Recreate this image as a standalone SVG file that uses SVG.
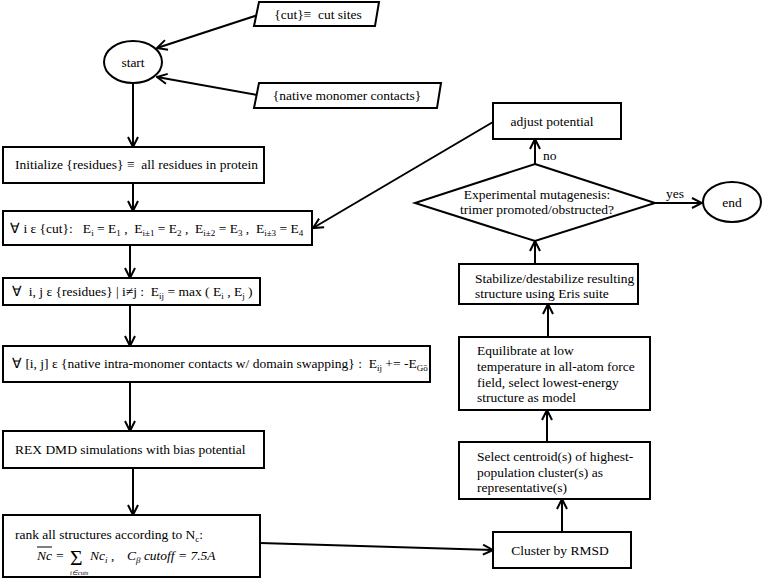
<svg xmlns="http://www.w3.org/2000/svg" width="762" height="579" viewBox="0 0 762 579">
<defs>
<marker id="arr" viewBox="0 0 12 12" refX="11" refY="6" markerWidth="12" markerHeight="12" markerUnits="userSpaceOnUse" orient="auto">
<path d="M1,1 L11,6 L1,11" fill="none" stroke="#000" stroke-width="2"/>
</marker>
<style>
.box{fill:#fff;stroke:#000;stroke-width:2}
.t{font-family:"Liberation Serif","Times New Roman",serif;font-size:13.5px;fill:#000;white-space:pre}
.c{text-anchor:middle}
.sub{font-size:9px}
.it{font-style:italic}
.tiny{font-size:6.5px}
.ln{fill:none;stroke:#000;stroke-width:2;marker-end:url(#arr)}
</style>
</defs>
<rect width="762" height="579" fill="#fff"/>

<g id="connectors">
<line class="ln" x1="258" y1="15" x2="157" y2="48"/>
<line class="ln" x1="257" y1="95" x2="157" y2="77"/>
<line class="ln" x1="133" y1="83" x2="133" y2="147"/>
<line class="ln" x1="133" y1="183" x2="133" y2="211"/>
<line class="ln" x1="130" y1="245" x2="130" y2="278"/>
<line class="ln" x1="130" y1="305" x2="130" y2="346"/>
<line class="ln" x1="130" y1="382" x2="130" y2="431"/>
<line class="ln" x1="133" y1="468" x2="133" y2="515"/>
<line class="ln" x1="260" y1="543" x2="493" y2="550"/>
<line class="ln" x1="562" y1="532" x2="562" y2="499"/>
<line class="ln" x1="547" y1="442" x2="547" y2="410"/>
<line class="ln" x1="548" y1="337" x2="548" y2="304"/>
<line class="ln" x1="535" y1="264" x2="535" y2="241"/>
<line class="ln" x1="535" y1="164" x2="535" y2="139"/>
<line class="ln" x1="493" y1="122" x2="313" y2="228"/>
<line class="ln" x1="655" y1="203" x2="702" y2="203"/>
<text class="t" x="543" y="160">no</text>
<text class="t" x="666" y="198">yes</text>
</g>

<g id="cut-sites">
<polygon class="box" points="259,2 379,2 375,26 254,26"/>
<text class="t c" x="318" y="19">{cut}≡  cut sites</text>
</g>

<g id="native-contacts">
<polygon class="box" points="259,83 441,83 437,108 254,108"/>
<text class="t c" x="347" y="100">{native monomer contacts}</text>
</g>

<g id="start">
<ellipse class="box" cx="133" cy="62" rx="29" ry="21"/>
<text class="t c" x="133" y="67">start</text>
</g>

<g id="init">
<rect class="box" x="3" y="147" width="261" height="36"/>
<text class="t" x="15" y="169">Initialize {residues} ≡  all residues in protein</text>
</g>

<g id="cut-energies">
<rect class="box" x="3" y="211" width="309" height="34"/>
<text class="t" x="10" y="233">∀ i ε {cut}:   E<tspan class="sub" dy="3">i</tspan><tspan dy="-3"> = E</tspan><tspan class="sub" dy="3">1</tspan><tspan dy="-3"> ,  E</tspan><tspan class="sub" dy="3">i±1</tspan><tspan dy="-3"> = E</tspan><tspan class="sub" dy="3">2</tspan><tspan dy="-3"> ,  E</tspan><tspan class="sub" dy="3">i±2</tspan><tspan dy="-3"> = E</tspan><tspan class="sub" dy="3">3</tspan><tspan dy="-3"> ,  E</tspan><tspan class="sub" dy="3">i±3</tspan><tspan dy="-3"> = E</tspan><tspan class="sub" dy="3">4</tspan></text>
</g>

<g id="pair-energies">
<rect class="box" x="3" y="278" width="257" height="27"/>
<text class="t" x="12" y="296">∀  i, j ε {residues} | i≠j :  E<tspan class="sub" dy="3">ij</tspan><tspan dy="-3"> = max ( E</tspan><tspan class="sub" dy="3">i</tspan><tspan dy="-3"> , E</tspan><tspan class="sub" dy="3">j</tspan><tspan dy="-3"> )</tspan></text>
</g>

<g id="native-bias">
<rect class="box" x="3" y="346" width="427" height="36"/>
<text class="t" x="12" y="368">∀ [i, j] ε {native intra-monomer contacts w/ domain swapping} :  E<tspan class="sub" dy="3">ij</tspan><tspan dy="-3"> += -E</tspan><tspan class="sub" dy="3">Gō</tspan></text>
</g>

<g id="rex-dmd">
<rect class="box" x="3" y="431" width="261" height="37"/>
<text class="t" x="15" y="454">REX DMD simulations with bias potential</text>
</g>

<g id="rank">
<rect class="box" x="3" y="515" width="257" height="62"/>
<text class="t" x="15" y="539">rank all structures according to N<tspan class="sub" dy="3">c</tspan><tspan dy="-3">:</tspan></text>
<text class="t it" x="37" y="560">Nc</text>
<line x1="37" y1="547" x2="52" y2="547" stroke="#000" stroke-width="1"/>
<text class="t" x="56" y="560">=</text>
<text class="t" transform="translate(70,565) scale(1.6)">Σ</text>
<text class="t it tiny" x="70" y="575">i∈cuts</text>
<text class="t it" x="90" y="560">Nc<tspan class="sub" dy="3">i</tspan><tspan dy="-3"> ,</tspan></text>
<text class="t it" x="127" y="560">C<tspan class="sub" dy="3">β</tspan><tspan dy="-3"> cutoff = 7.5A</tspan></text>
</g>

<g id="cluster">
<rect class="box" x="493" y="532" width="138" height="36"/>
<text class="t c" x="560" y="555">Cluster by RMSD</text>
</g>

<g id="centroid">
<rect class="box" x="459" y="442" width="191" height="57"/>
<text class="t" x="477" y="461">Select centroid(s) of highest-</text>
<text class="t" x="477" y="477">population cluster(s) as</text>
<text class="t" x="477" y="492">representative(s)</text>
</g>

<g id="equilibrate">
<rect class="box" x="459" y="337" width="191" height="73"/>
<text class="t" x="477" y="355">Equilibrate at low</text>
<text class="t" x="477" y="371">temperature in all-atom force</text>
<text class="t" x="477" y="387">field, select lowest-energy</text>
<text class="t" x="477" y="402">structure as model</text>
</g>

<g id="stabilize">
<rect class="box" x="459" y="264" width="179" height="40"/>
<text class="t" x="475" y="283">Stabilize/destabilize resulting</text>
<text class="t" x="475" y="298">structure using Eris suite</text>
</g>

<g id="decision">
<polygon class="box" points="535,164 655,203 535,241 415,203"/>
<text class="t c" x="537" y="199">Experimental mutagenesis:</text>
<text class="t c" x="537" y="214">trimer promoted/obstructed?</text>
</g>

<g id="adjust">
<rect class="box" x="493" y="103" width="128" height="36"/>
<text class="t c" x="552" y="126">adjust potential</text>
</g>

<g id="end">
<ellipse class="box" cx="732" cy="202" rx="29" ry="20"/>
<text class="t c" x="732" y="207">end</text>
</g>
</svg>
